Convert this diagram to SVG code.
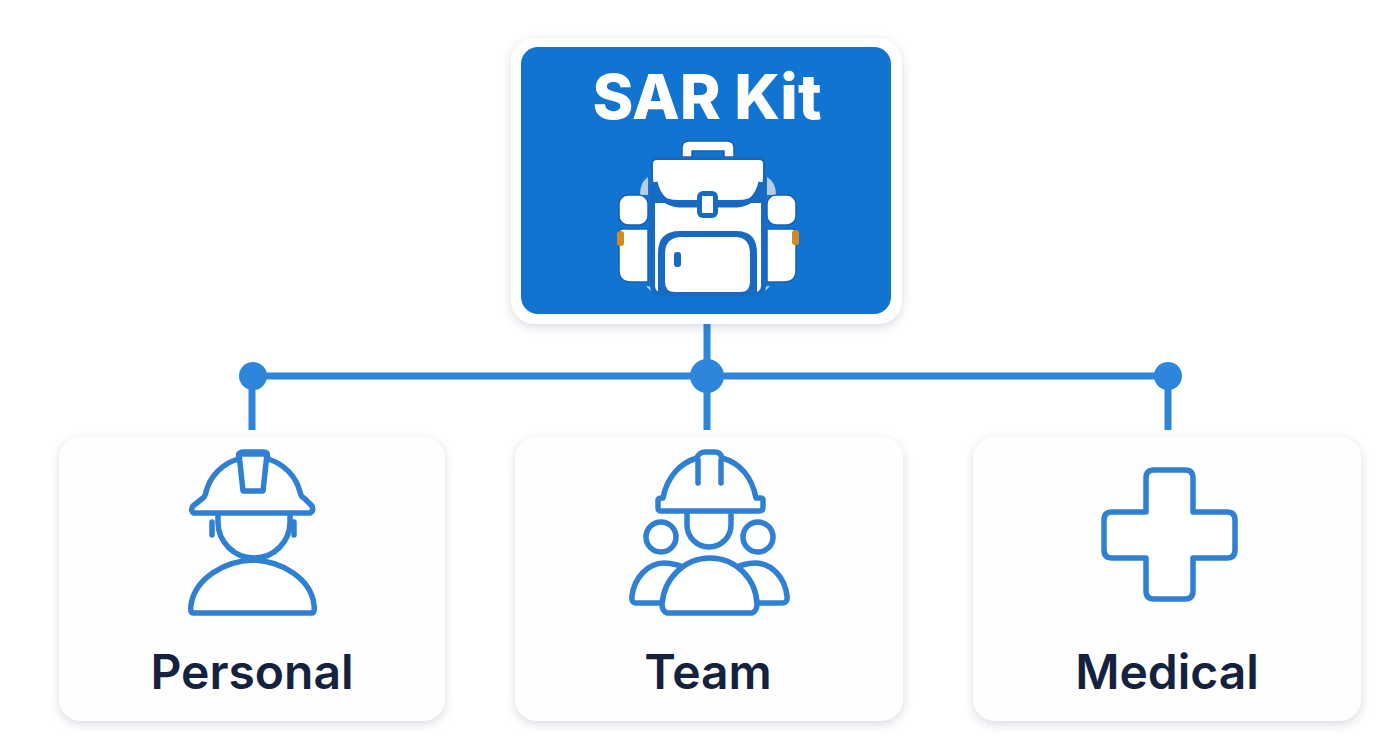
<svg xmlns="http://www.w3.org/2000/svg" width="1392" height="752" viewBox="0 0 1392 752">
<style>
.card{fill:#fefeff;filter:url(#sh)}
.ic{fill:#fff;stroke:#2f80d2;stroke-width:5.5;stroke-linejoin:round;stroke-linecap:round}
.lbl{font-family:Inter,"Liberation Sans",sans-serif;font-weight:600;font-size:48px;fill:#14213f;text-anchor:middle}
.w{fill:#fff;stroke:#1660b8;stroke-width:1.5}
.con{stroke:#2e86dc;stroke-width:7;fill:none}
.dot{fill:#2e86dc}
</style>
<defs>
<filter id="sh" x="-10%" y="-10%" width="120%" height="125%"><feDropShadow dx="0" dy="3" stdDeviation="5" flood-color="#3a4a70" flood-opacity="0.2"/></filter>
</defs>
<rect width="1392" height="752" fill="#fff"/>
<g id="connectors">
<path class="con" d="M707 322V430M253 376H1168M252 376V430M1168 376V430"/>
<circle class="dot" cx="253" cy="376" r="14"/>
<circle class="dot" cx="707" cy="376" r="17"/>
<circle class="dot" cx="1168" cy="376" r="14"/>
</g>
<g id="root">
<rect class="card" x="511" y="38" width="391" height="286" rx="24" style="fill:#fff"/>
<rect x="521" y="47" width="370" height="267" rx="17" fill="#1274d1"/>
<text x="707" y="119" text-anchor="middle" font-family="Inter,'Liberation Sans',sans-serif" font-weight="800" font-size="62" fill="#fff">SAR Kit</text>
<g id="backpack">
<path d="M640 195Q640 182 648 177V195ZM776 195Q776 182 767 177V195Z" fill="#b9cce6"/>
<path d="M646 286Q654 296 668 296L662 288ZM770 286Q762 296 748 296L754 288Z" fill="#c3d3ea"/>
<rect class="w" x="619" y="195" width="29" height="30" rx="9"/>
<path class="w" d="M619 233Q619 229 623 229H648V282H631Q619 282 619 270Z"/>
<rect class="w" x="767" y="195" width="29" height="30" rx="9"/>
<path class="w" d="M767 229H792Q796 229 796 233V270Q796 282 784 282H767Z"/>
<rect x="617" y="231" width="7" height="15" rx="3" fill="#d18a1f"/>
<rect x="792" y="230" width="7" height="15" rx="3" fill="#d18a1f"/>
<path class="w" d="M682 157V148Q682 141 689 141H727Q734 141 734 148V157H724V151H692V157Z"/>
<path d="M650 165Q650 157 658 157H758Q766 157 766 165V286Q766 296 756 296H660Q650 296 650 286Z" fill="#1769c2"/>
<path d="M655 203H761V286Q761 293 751 293H665Q655 293 655 286Z" fill="#fff"/>
<path d="M653 164Q653 160 657 160H759Q763 160 763 164V176Q763 200 737 200H679Q653 200 653 176Z" fill="#fff"/>
<path d="M655 182Q660 204 679 205H737Q756 204 761 182" fill="none" stroke="#1769c2" stroke-width="5"/>
<rect x="697" y="191" width="21" height="27" rx="6" fill="#1769c2"/>
<rect x="702" y="196" width="11" height="17" fill="#fff"/>
<path d="M658 294V253Q658 231 680 231H736Q757 231 757 253V294Z" fill="#1769c2"/>
<path d="M665 282V254Q665 237 682 237H735Q750 237 750 254V282Q750 292 740 292H675Q665 292 665 282Z" fill="#fff"/>
<rect x="674" y="252" width="7" height="15" rx="3" fill="#1769c2"/>
</g>
</g>
<g id="personal">
<rect class="card" x="59" y="437" width="386" height="284" rx="22"/>
<path class="ic" d="M212 522V535M294 522V535" fill="none" stroke-width="3"/>
<path class="ic" d="M218 513V522A36 36 0 0 0 290 522V513" />
<path class="ic" d="M193 613Q190 613 191 605C195 578 225 561 253 560C281 561 311 578 314 605Q315 613 312 613Z"/>
<path class="ic" d="M194 513Q190 511 193 506L203 498Q205 497 206 492C210 476 222 464 238 459L239 454Q240 452 243 452H263Q267 452 267 454L268 459C284 464 296 476 300 492Q301 497 304 498L312 506Q314 511 310 513Z"/>
<path class="ic" d="M239 454H267L263 491H243Z"/>
<text class="lbl" x="252" y="689">Personal</text>
</g>
<g id="team">
<rect class="card" x="515" y="437" width="388" height="284" rx="22"/>
<circle class="ic" cx="661" cy="537" r="15"/>
<circle class="ic" cx="758" cy="537" r="15"/>
<path class="ic" d="M687 513V525A22 22 0 0 0 731 525V513"/>
<path class="ic" d="M664 603H636Q631 603 632 596C634 578 648 563 664 563C672 563 680 565 690 570L730 570C740 565 748 563 755 563C772 563 785 578 787 596Q788 603 782 603H755Z"/>
<path class="ic" d="M667 613Q662 611 662 604C664 578 685 558 710 558C735 558 756 578 757 604Q757 611 752 613Z"/>
<path class="ic" d="M661 511Q658 511 658 507V500Q658 498 662 498H663C667 477 680 463 697 458C698 454 702 452 705 452H715C718 452 721 454 722 458C740 463 752 477 756 498H760Q763 498 763 500V507Q763 511 759 511Z"/>
<path class="ic" d="M698 460V483M721 460V483" fill="none"/>
<text class="lbl" x="708" y="689">Team</text>
</g>
<g id="medical">
<rect class="card" x="973" y="437" width="388" height="284" rx="22"/>
<path class="ic" d="M1154 470H1185Q1193 470 1193 478V512H1227Q1235 512 1235 520V550Q1235 558 1227 558H1193V591Q1193 599 1185 599H1154Q1146 599 1146 591V558H1112Q1104 558 1104 550V520Q1104 512 1112 512H1146V478Q1146 470 1154 470Z"/>
<text class="lbl" x="1167" y="689">Medical</text>
</g>
</svg>
